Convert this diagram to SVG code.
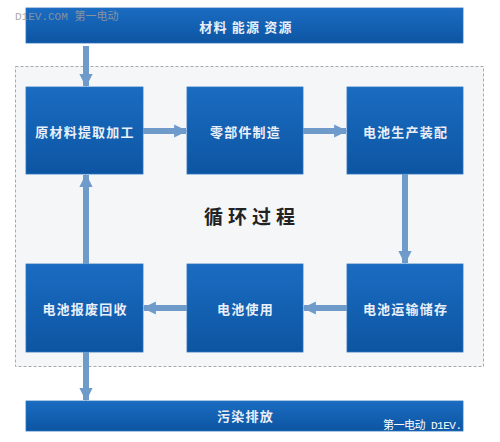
<svg xmlns="http://www.w3.org/2000/svg" width="500" height="442" viewBox="0 0 500 442">
<defs>
<linearGradient id="g" x1="0" y1="0" x2="0" y2="1">
<stop offset="0" stop-color="#1a6cc2"/>
<stop offset="1" stop-color="#0d55a2"/>
</linearGradient>
<marker id="ah" viewBox="0 0 10 10" refX="9" refY="5" markerWidth="2.2" markerHeight="2.7" orient="auto" markerUnits="strokeWidth">
<path d="M0,0 L10,5 L0,10 Z" fill="#6f9bcb"/>
</marker>
<style>
.box{fill:url(#g);stroke:#2a73bd;stroke-width:0.8}
.t{font-family:"Noto Sans CJK SC","Liberation Sans",sans-serif;font-weight:bold;font-size:13px;fill:#e9eff8;text-anchor:middle;dominant-baseline:central;letter-spacing:1.2px}
.c{stroke:#6f9bcb;stroke-width:6;fill:none;marker-end:url(#ah)}
.wm{font-family:"Liberation Mono","Noto Sans CJK SC",monospace;font-size:11px}
.ct{font-family:"Noto Sans CJK SC",sans-serif;font-weight:bold;font-size:19px;fill:#222;text-anchor:middle;dominant-baseline:central;letter-spacing:5px}
</style>
</defs>
<rect width="500" height="442" fill="#ffffff"/>
<rect x="15.5" y="66.5" width="468" height="300" fill="#f5f6f8" stroke="#a9a9a9" stroke-width="1" stroke-dasharray="3,2"/>
<g id="top"><rect class="box" x="26" y="8" width="437" height="35"/><text class="t" x="246" y="26">材料 能源 资源</text></g>
<g id="n1"><rect class="box" x="26" y="87" width="117" height="87"/><text class="t" x="85" y="131">原材料提取加工</text></g>
<g id="n2"><rect class="box" x="187" y="87" width="116" height="87"/><text class="t" x="245.5" y="131">零部件制造</text></g>
<g id="n3"><rect class="box" x="347" y="87" width="116" height="87"/><text class="t" x="405.5" y="131">电池生产装配</text></g>
<g id="n4"><rect class="box" x="347" y="264" width="116" height="88"/><text class="t" x="405.5" y="308">电池运输储存</text></g>
<g id="n5"><rect class="box" x="187" y="264" width="116" height="88"/><text class="t" x="245.5" y="308">电池使用</text></g>
<g id="n6"><rect class="box" x="26" y="264" width="117" height="88"/><text class="t" x="85" y="308">电池报废回收</text></g>
<g id="bottom"><rect class="box" x="26" y="401" width="437" height="30"/><text class="t" x="245.5" y="415">污染排放</text></g>
<text class="ct" x="252" y="215">循环过程</text>
<g id="connectors">
<path class="c" d="M86,46 V86"/>
<path class="c" d="M143,131 H186"/>
<path class="c" d="M303,131 H346"/>
<path class="c" d="M405,174 V263"/>
<path class="c" d="M347,308 H304"/>
<path class="c" d="M187,308 H144"/>
<path class="c" d="M86,264 V175"/>
<path class="c" d="M86,352 V400"/>
</g>
<text class="wm" x="15" y="20" fill="#9a9a9a" opacity="0.85">D1EV.COM 第一电动</text>
<text class="wm" x="383" y="429" fill="#ffffff" font-size="12" textLength="79">第一电动 D1EV.</text>
</svg>
